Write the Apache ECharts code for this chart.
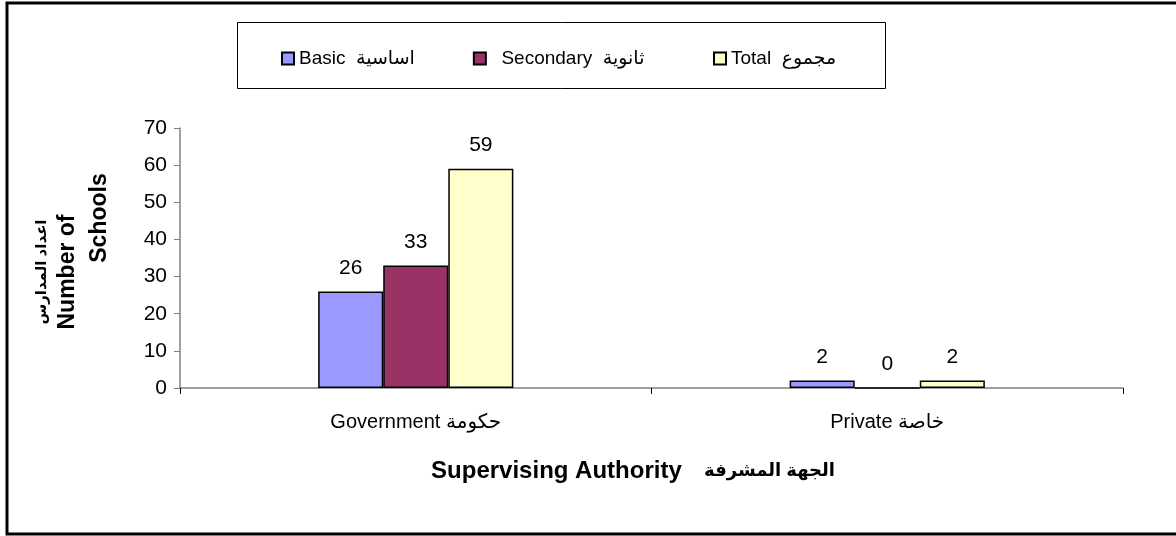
<!DOCTYPE html>
<html>
<head>
<meta charset="utf-8">
<script src="https://cdn.jsdelivr.net/npm/echarts@6/dist/echarts.min.js"></script>
<style>
  html, body { margin: 0; padding: 0; background: #fff; }
  #main { width: 1176px; height: 536px; }
</style>
</head>
<body>
<div id="main"></div>
<script>
var categories = ['Government حكومة', 'Private خاصة'];
var seriesNames = ['Basic', 'Secondary', 'Total'];
var legendLabels = ['Basic  اساسية', '  Secondary  ثانوية  ', 'Total  مجموع'];
var basicValues = [26, 2];
var secondaryValues = [33, 0];
var totalValues = [59, 2];
var yTicks = [0, 10, 20, 30, 40, 50, 60, 70];

var font = '"Liberation Sans", "DejaVu Sans", sans-serif';
var myChart = echarts.init(document.getElementById('main'));

function barSeries(name, data, color) {
    return {
        name: name,
        type: 'bar',
        barGap: '0%',
        barCategoryGap: '58.6%',
        itemStyle: { color: color, borderColor: '#000', borderWidth: 1.5 },
        label: {
            show: true,
            position: 'top',
            distance: 13,
            color: '#000',
            fontFamily: font,
            fontSize: 21
        },
        data: data
    };
}

var option = {
    animation: false,
    backgroundColor: '#fff',
    grid: { left: 180, right: 53, top: 128, bottom: 148 },
    legend: {
        data: seriesNames,
        left: 276,
        top: 44,
        icon: 'rect',
        itemWidth: 12,
        itemHeight: 12,
        itemGap: 58,
        formatter: function (name) {
            return legendLabels[seriesNames.indexOf(name)];
        },
        textStyle: { fontFamily: font, fontSize: 19, color: '#000' }
    },
    xAxis: {
        type: 'category',
        data: categories,
        axisLine: { lineStyle: { color: '#808080', width: 1.5 } },
        axisTick: { show: true, length: 6, lineStyle: { color: '#000' } },
        axisLabel: { margin: 24, color: '#000', fontFamily: font, fontSize: 20 }
    },
    yAxis: {
        type: 'value',
        min: 0,
        max: 70,
        interval: 10,
        splitLine: { show: false },
        axisLine: { show: true, lineStyle: { color: '#808080', width: 1.5 } },
        axisTick: { show: true, inside: false, length: 6, lineStyle: { color: '#808080' } },
        axisLabel: {
            margin: 13,
            color: '#000',
            fontFamily: font,
            fontSize: 21,
            formatter: function (v) { return yTicks.indexOf(v) >= 0 ? String(v) : ''; }
        }
    },
    graphic: [
        {
            type: 'polyline',
            shape: { points: [[1176, 3], [7, 3], [7, 534], [1176, 534]] },
            style: { stroke: '#000', lineWidth: 3, fill: null }
        },
        {
            type: 'rect',
            shape: { x: 237.5, y: 22.5, width: 648, height: 66 },
            style: { stroke: '#000', lineWidth: 1, fill: '#fff' },
            z: -1
        },
        {
            type: 'text',
            x: 42, y: 272, rotation: Math.PI / 2,
            style: { text: 'اعداد المدارس', fontFamily: font, fontSize: 15, fontWeight: 'bold',
                     fill: '#000', align: 'center', verticalAlign: 'middle' }
        },
        {
            type: 'text',
            x: 68, y: 272, rotation: Math.PI / 2,
            style: { text: 'Number of', fontFamily: font, fontSize: 23, fontWeight: 'bold',
                     fill: '#000', align: 'center', verticalAlign: 'middle' }
        },
        {
            type: 'text',
            x: 100, y: 218, rotation: Math.PI / 2,
            style: { text: 'Schools', fontFamily: font, fontSize: 23, fontWeight: 'bold',
                     fill: '#000', align: 'center', verticalAlign: 'middle' }
        },
        {
            type: 'text',
            x: 633, y: 471,
            style: {
                text: '{en|Supervising Authority}{sp|    }{ar|الجهة المشرفة}',
                fill: '#000', align: 'center', verticalAlign: 'middle',
                rich: {
                    en: { fontFamily: font, fontSize: 24, fontWeight: 'bold', fill: '#000' },
                    sp: { fontFamily: font, fontSize: 20, fill: '#000' },
                    ar: { fontFamily: font, fontSize: 18, fontWeight: 'bold', fill: '#000' }
                }
            }
        }
    ],
    series: [
        barSeries('Basic', basicValues, '#9999FF'),
        barSeries('Secondary', secondaryValues, '#993366'),
        barSeries('Total', totalValues, '#FFFFCC')
    ]
};

myChart.setOption(option);
</script>
</body>
</html>
